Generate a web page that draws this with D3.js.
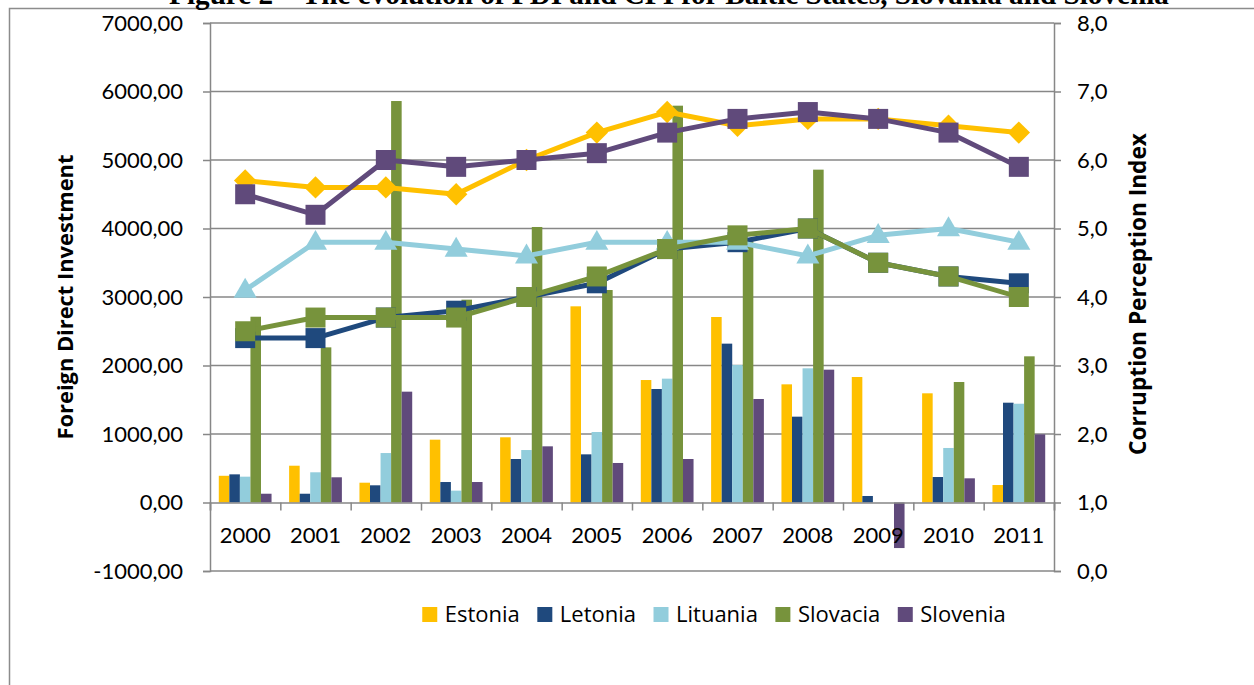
<!DOCTYPE html>
<html>
<head>
<meta charset="utf-8">
<script src="https://cdn.jsdelivr.net/npm/d3@7"></script>
<style>
  html, body { margin: 0; padding: 0; background: #fff; }
  svg { display: block; }
  text { font-family: Lato, "Open Sans", sans-serif; fill: #000; }
</style>
</head>
<body>
<svg id="chart" width="1254" height="685"></svg>
<script>
// ---------- data ----------
const years = ["2000","2001","2002","2003","2004","2005","2006","2007","2008","2009","2010","2011"];
const countries = ["Estonia","Letonia","Lituania","Slovacia","Slovenia"];
const colors = ["#FFC000","#1F497D","#92CDDC","#77933C","#604A7B"];
const markers = ["diamond","square","triangle","square","square"];

// Foreign Direct Investment (bars, left axis)
const fdiEstonia  = [390, 537, 289, 917, 952, 2864, 1788, 2708, 1725, 1832, 1594, 255];
const fdiLetonia  = [411, 128, 251, 299, 635, 703, 1657, 2319, 1253, 95, 372, 1457];
const fdiLituania = [377, 441, 722, 173, 766, 1029, 1808, 2007, 1959, 0, 796, 1442];
const fdiSlovacia = [2712, 2265, 5861, 2961, 4022, 3102, 5793, 3850, 4859, 0, 1759, 2134];
const fdiSlovenia = [128, 368, 1618, 299, 820, 577, 635, 1511, 1939, -665, 353, 995];

// Corruption Perception Index (lines, right axis)
const cpiEstonia  = [5.7, 5.6, 5.6, 5.5, 6.0, 6.4, 6.7, 6.5, 6.6, 6.6, 6.5, 6.4];
const cpiLetonia  = [3.4, 3.4, 3.7, 3.8, 4.0, 4.2, 4.7, 4.8, 5.0, 4.5, 4.3, 4.2];
const cpiLituania = [4.1, 4.8, 4.8, 4.7, 4.6, 4.8, 4.8, 4.8, 4.6, 4.9, 5.0, 4.8];
const cpiSlovacia = [3.5, 3.7, 3.7, 3.7, 4.0, 4.3, 4.7, 4.9, 5.0, 4.5, 4.3, 4.0];
const cpiSlovenia = [5.5, 5.2, 6.0, 5.9, 6.0, 6.1, 6.4, 6.6, 6.7, 6.6, 6.4, 5.9];

const leftTicks = [-1000, 0, 1000, 2000, 3000, 4000, 5000, 6000, 7000];
const rightTicks = [0, 1, 2, 3, 4, 5, 6, 7, 8];

const titleText = "Figure 2 – The evolution of FDI and CPI for Baltic States, Slovakia and Slovenia";
const leftTitle = "Foreign Direct Investment";
const rightTitle = "Corruption Perception Index";

const fdi = [fdiEstonia, fdiLetonia, fdiLituania, fdiSlovacia, fdiSlovenia];
const cpi = [cpiEstonia, cpiLetonia, cpiLituania, cpiSlovacia, cpiSlovenia];

// ---------- layout ----------
const svg = d3.select("#chart");
const L = 210, R = 1054, T = 23, B = 571;
const gridColor = "#878787";

const x0 = d3.scaleBand().domain(years).range([L, R]).padding(0);
const bw = x0.bandwidth();
const x1 = d3.scaleBand().domain(countries).range([0, bw]).paddingInner(0).paddingOuter(0.833);
const xi = d3.scaleLinear().domain([0, years.length]).range([L, R]);
const yL = d3.scaleLinear().domain([-1000, 7000]).range([B, T]);
const yR = d3.scaleLinear().domain([0, 8]).range([B, T]);

// fit a text element to a target length by adjusting its font size
function fitText(sel, target) {
  const n = sel.node();
  const fs = parseFloat(sel.style("font-size"));
  const len = n.getComputedTextLength();
  sel.style("font-size", (fs * target / len).toFixed(2) + "px");
}

// outer frame
svg.append("rect").attr("x", 9.5).attr("y", 8.5).attr("width", 1400).attr("height", 900)
  .attr("fill", "none").attr("stroke", "#8c8c8c").attr("stroke-width", 1.5);

// title (clipped at top, as in the reference)
const tt = svg.append("text").attr("x", 669).attr("y", 4).attr("text-anchor", "middle")
  .style("font-family", "'Liberation Serif', 'Times New Roman', serif")
  .style("font-weight", "bold").style("font-size", "24px").text(titleText);
fitText(tt, 1000);

// gridlines
svg.append("g").selectAll("line").data(leftTicks.filter(d => d !== 0)).join("line")
  .attr("x1", L).attr("x2", R).attr("y1", d => yL(d)).attr("y2", d => yL(d))
  .attr("stroke", gridColor).attr("stroke-width", 1.5);

// left axis
const axL = svg.append("g").attr("transform", `translate(${L},0)`)
  .call(d3.axisLeft(yL).tickValues(leftTicks).tickSize(7).tickPadding(20)
    .tickFormat(d => d3.format(".2f")(d).replace(".", ",").replace("\u2212", "-")));
// right axis
const axR = svg.append("g").attr("transform", `translate(${R},0)`)
  .call(d3.axisRight(yR).tickValues(rightTicks).tickSize(7).tickPadding(16)
    .tickFormat(d => d3.format(".1f")(d).replace(".", ",")));
[axL, axR].forEach(a => {
  a.select(".domain").attr("stroke", gridColor).attr("stroke-width", 1.5);
  a.selectAll(".tick line").attr("stroke", gridColor).attr("stroke-width", 1.5);
  a.selectAll(".tick text").style("font-family", "Lato, sans-serif").style("font-size", "22px").attr("fill", "#000");
});

// bars
const barsG = svg.append("g");
countries.forEach((c, ci) => {
  barsG.append("g").selectAll("rect").data(fdi[ci]).join("rect")
    .attr("x", (d, i) => x0(years[i]) + x1(c))
    .attr("width", x1.bandwidth())
    .attr("y", d => Math.min(yL(d), yL(0)))
    .attr("height", d => Math.abs(yL(d) - yL(0)))
    .attr("fill", colors[ci]);
});

// category axis (at zero)
const axX = svg.append("g").attr("transform", `translate(0,${yL(0)})`)
  .call(d3.axisBottom(xi).tickValues(d3.range(years.length + 1)).tickSize(8).tickFormat(""));
axX.select(".domain").attr("stroke", gridColor).attr("stroke-width", 1.5);
axX.selectAll(".tick line").attr("stroke", gridColor).attr("stroke-width", 1.5);

svg.append("g").selectAll("text").data(years).join("text")
  .attr("x", d => x0(d) + bw / 2).attr("y", yL(0) + 40)
  .attr("text-anchor", "middle").style("font-size", "22px").text(d => d);

// lines + markers
const line = d3.line().x((d, i) => x0(years[i]) + bw / 2).y(d => yR(d));
const symType = { diamond: d3.symbolDiamond2 || d3.symbolDiamond, square: d3.symbolSquare, triangle: d3.symbolTriangle };
const symSize = { diamond: 320, square: 400, triangle: 230 };
countries.forEach((c, ci) => {
  const g = svg.append("g");
  g.append("path").datum(cpi[ci]).attr("d", line).attr("fill", "none")
    .attr("stroke", colors[ci]).attr("stroke-width", 5).attr("stroke-linejoin", "round");
  const sym = d3.symbol().type(symType[markers[ci]]).size(symSize[markers[ci]]);
  g.selectAll("path.m").data(cpi[ci]).join("path").attr("class", "m")
    .attr("transform", (d, i) => `translate(${x0(years[i]) + bw / 2},${yR(d) + (markers[ci] === "triangle" ? 1 : 0)})`)
    .attr("d", sym).attr("fill", colors[ci]);
});

// axis titles
const lt = svg.append("text").attr("transform", "translate(73,297) rotate(-90)").attr("text-anchor", "middle")
  .style("font-family", "'Open Sans', sans-serif")
  .style("font-weight", "bold").style("font-size", "21px").text(leftTitle);
fitText(lt, 285);
const rt = svg.append("text").attr("transform", "translate(1146,294) rotate(-90)").attr("text-anchor", "middle")
  .style("font-family", "'Open Sans', sans-serif")
  .style("font-weight", "bold").style("font-size", "21px").text(rightTitle);
fitText(rt, 322);

// legend
const lg = svg.append("g");
let lx = 0;
countries.forEach((c, ci) => {
  lg.append("rect").attr("x", lx).attr("y", 607).attr("width", 15).attr("height", 15).attr("fill", colors[ci]);
  const t = lg.append("text").attr("x", lx + 22.5).attr("y", 622)
    .style("font-family", "'Open Sans', sans-serif").style("font-size", "22px").text(c);
  lx += 22.5 + t.node().getComputedTextLength() + 17.5;
});
const lw = lx - 17.5;
lg.attr("transform", `translate(${714 - lw / 2},0)`);
</script>
</body>
</html>
